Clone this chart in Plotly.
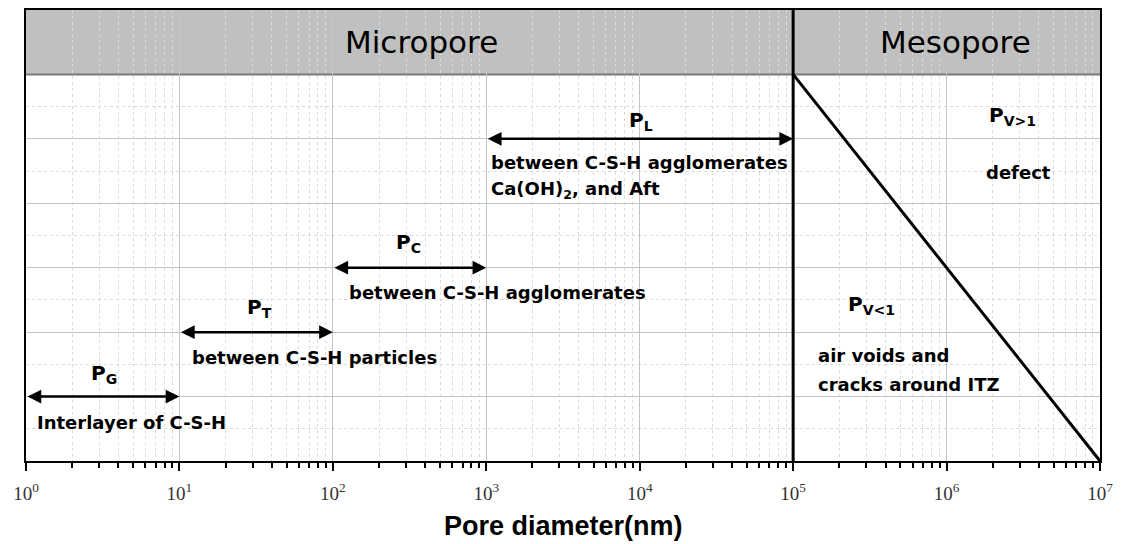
import math
import plotly.graph_objects as go

# Pore classes: size range (nm) and the level at which each range arrow is drawn
pore_names = ["P<sub>G</sub>", "P<sub>T</sub>", "P<sub>C</sub>", "P<sub>L</sub>"]
pore_lower = [1, 10, 100, 1000]
pore_upper = [10, 100, 1000, 100000]
pore_level = [1, 2, 3, 5]

# Micropore / mesopore boundary and the sloped mesopore line
boundary_nm = 100000
meso_line_x = [100000, 10000000]
meso_line_y = [6, 0]

# Region headings
region_names = ["Micropore", "Mesopore"]

# Axis ticks
tick_exponents = [0, 1, 2, 3, 4, 5, 6, 7]
tick_values = [10 ** e for e in tick_exponents]
tick_text = ["10<sup>%d</sup>" % e for e in tick_exponents]
minor_values = [m * 10 ** k for k in range(0, 7) for m in range(2, 10)]

Y_TOP = 7
HEADER_Y0 = 6

BOLD = "DejaVu Sans"
fig = go.Figure()

# Boundary line between micropores and mesopores
fig.add_trace(go.Scatter(
    x=[boundary_nm, boundary_nm], y=[0, Y_TOP], mode="lines",
    line=dict(color="black", width=3), hoverinfo="skip", showlegend=False))

# Sloped line in the mesopore region
fig.add_trace(go.Scatter(
    x=meso_line_x, y=meso_line_y, mode="lines",
    line=dict(color="black", width=3), hoverinfo="skip", showlegend=False))

annotations = []

# Double-headed arrows spanning each pore class
for lo, hi, lev in zip(pore_lower, pore_upper, pore_level):
    annotations.append(dict(
        x=math.log10(hi), y=lev, ax=math.log10(lo), ay=lev,
        xref="x", yref="y", axref="x", ayref="y", text="",
        showarrow=True, arrowhead=2, startarrowhead=2, arrowside="end+start",
        arrowsize=1.1, startarrowsize=1.1, arrowwidth=2.5, arrowcolor="black",
        standoff=0, startstandoff=0))

# Class symbols above the arrows
name_pos = [(0.51, 1.35), (1.52, 2.37), (2.49, 3.38), (4.01, 5.28)]
for name, (lx, ly) in zip(pore_names, name_pos):
    annotations.append(dict(x=lx, y=ly, xref="x", yref="y", text="<b>%s</b>" % name,
                            showarrow=False, xanchor="center", yanchor="middle",
                            font=dict(family=BOLD, size=20, color="black")))

# Descriptions below the arrows
desc = [
    (0.058, 0.59, "Interlayer of C-S-H"),
    (1.068, 1.61, "between C-S-H particles"),
    (2.09, 2.62, "between C-S-H agglomerates"),
    (3.02, 4.63, "between C-S-H agglomerates"),
    (3.02, 4.20, "Ca(OH)<sub>2</sub>, and Aft"),
    (5.15, 1.64, "air voids and"),
    (5.15, 1.19, "cracks around ITZ"),
]
for lx, ly, t in desc:
    annotations.append(dict(x=lx, y=ly, xref="x", yref="y", text="<b>%s</b>" % t,
                            showarrow=False, xanchor="left", yanchor="middle",
                            font=dict(family=BOLD, size=18, color="black")))

# Mesopore labels
annotations.append(dict(x=6.43, y=5.35, xref="x", yref="y", text="<b>P<sub>V>1</sub></b>",
                        showarrow=False, font=dict(family=BOLD, size=20, color="black")))
annotations.append(dict(x=6.47, y=4.48, xref="x", yref="y", text="<b>defect</b>",
                        showarrow=False, font=dict(family=BOLD, size=18, color="black")))
annotations.append(dict(x=5.51, y=2.42, xref="x", yref="y", text="<b>P<sub>V<1</sub></b>",
                        showarrow=False, font=dict(family=BOLD, size=20, color="black")))

# Region headings in the top band
for name, hx in zip(region_names, [2.58, 6.06]):
    annotations.append(dict(x=hx, y=6.5, xref="x", yref="y", text=name, showarrow=False,
                            xanchor="center", yanchor="middle",
                            font=dict(family="DejaVu Sans", size=31, color="black")))

# X axis title
annotations.append(dict(x=0.5, y=-0.1435, xref="paper", yref="paper",
                        text="<b>Pore diameter(nm)</b>", showarrow=False,
                        xanchor="center", yanchor="middle",
                        font=dict(family="Liberation Sans", size=27, color="black")))

shapes = [
    # Grey heading band
    dict(type="rect", xref="paper", yref="y", x0=0, x1=1, y0=HEADER_Y0, y1=Y_TOP,
         fillcolor="#c0c0c0", line=dict(width=0), layer="between"),
    dict(type="line", xref="paper", yref="y", x0=0, x1=1, y0=HEADER_Y0, y1=HEADER_Y0,
         line=dict(color="#7a7a7a", width=2), layer="between"),
]

fig.update_layout(
    width=1121, height=544,
    margin=dict(l=26, r=20, t=8, b=83),
    paper_bgcolor="white", plot_bgcolor="white",
    showlegend=False,
    annotations=annotations,
    shapes=shapes,
    xaxis=dict(
        type="log", range=[0, 7],
        tickvals=tick_values, ticktext=tick_text,
        tickfont=dict(family="Liberation Serif", size=19, color="#333333"),
        ticks="outside", ticklen=8, tickwidth=2, tickcolor="black",
        ticklabelstandoff=6,
        showline=True, linecolor="black", linewidth=2, mirror=True,
        showgrid=True, gridcolor="#c4c4c4", gridwidth=1.2,
        zeroline=False,
        minor=dict(tickvals=minor_values, ticks="outside", ticklen=5, tickwidth=1.5,
                   tickcolor="black", showgrid=True, gridcolor="#dadada",
                   gridwidth=1, griddash="3px,3px"),
    ),
    yaxis=dict(
        range=[0, Y_TOP],
        tickvals=[1, 2, 3, 4, 5], showticklabels=False, ticks="",
        showline=True, linecolor="black", linewidth=2, mirror=True,
        showgrid=True, gridcolor="#c4c4c4", gridwidth=1.2,
        zeroline=False,
        minor=dict(tickvals=[0.5, 1.5, 2.5, 3.5, 4.5, 5.5], ticks="", showgrid=True,
                   gridcolor="#dadada", gridwidth=1, griddash="3px,3px"),
    ),
)

fig.write_html("out.html")
